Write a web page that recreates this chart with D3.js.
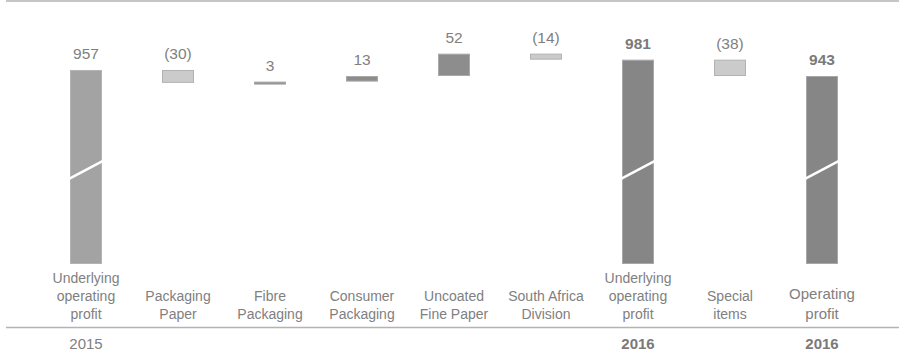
<!DOCTYPE html>
<html>
<head>
<meta charset="utf-8">
<script src="https://cdn.jsdelivr.net/npm/d3@7"></script>
<style>
  body { margin: 0; background: #fff; }
  svg { display: block; }
</style>
</head>
<body>
<svg id="chart"></svg>
<script>
const categories = [
  ["Underlying", "operating", "profit"],
  ["Packaging", "Paper"],
  ["Fibre", "Packaging"],
  ["Consumer", "Packaging"],
  ["Uncoated", "Fine Paper"],
  ["South Africa", "Division"],
  ["Underlying", "operating", "profit"],
  ["Special", "items"],
  ["Operating", "profit"]
];
const values = [957, -30, 3, 13, 52, -14, 981, -38, 943];
const kinds = ["total2015", "delta", "delta", "delta", "delta", "delta", "total2016", "delta", "total2016"];
const valueLabels = ["957", "(30)", "3", "13", "52", "(14)", "981", "(38)", "943"];
const yearLabels = ["2015", "", "", "", "", "", "2016", "", "2016"];

const width = 899;
const height = 351;
const barWidth = 32;
const baseY = 264;
const breakValue = 500;
const font = "'Liberation Sans', Arial, Helvetica, sans-serif";
const textColor = "#808080";
const boldColor = "#7a7a7a";

const svg = d3.select("#chart")
  .attr("width", width)
  .attr("height", height);

const xScale = d3.scalePoint()
  .domain(d3.range(categories.length))
  .range([86, 822]);

// broken axis: 0..900 squeezed into the lower part, 900..1000 stretched
const yScale = d3.scaleLinear()
  .domain([0, 900, 1000])
  .range([baseY, 94.5, 51.5]);

// build waterfall segments
let running = 0;
const bars = values.map((v, i) => {
  let start, end;
  if (kinds[i] === "delta") {
    start = running;
    end = running + v;
  } else {
    start = 0;
    end = v;
  }
  running = end;
  return { i, v, kind: kinds[i], start, end, label: valueLabels[i] };
});

const fills = { total2015: "#a3a3a3", total2016: "#868686", up: "#8d8d8d", down: "#cbcbcb" };
const strokes = { total2015: "#b3b3b3", total2016: "#a8a8a8", up: "#a9a9a9", down: "#b2b2b2" };
const styleKey = d => d.kind !== "delta" ? d.kind : (d.v >= 0 ? "up" : "down");

// frame lines
svg.append("line")
  .attr("x1", 6).attr("x2", width)
  .attr("y1", 1).attr("y2", 1)
  .attr("stroke", "#b3b3b3")
  .attr("stroke-width", 1.5);

svg.append("line")
  .attr("x1", 6).attr("x2", width)
  .attr("y1", 327.5).attr("y2", 327.5)
  .attr("stroke", "#b3b3b3")
  .attr("stroke-width", 1.5);

svg.selectAll(".bar")
  .data(bars)
  .enter().append("rect")
  .attr("class", "bar")
  .attr("x", d => xScale(d.i) - barWidth / 2 + 0.5)
  .attr("width", barWidth - 1)
  .attr("y", d => yScale(Math.max(d.start, d.end)) + 0.5)
  .attr("height", d => Math.max(2, Math.abs(yScale(d.start) - yScale(d.end)) - 1))
  .attr("fill", d => fills[styleKey(d)])
  .attr("stroke", d => strokes[styleKey(d)])
  .attr("stroke-width", 1);

// break marks on the total bars
const yb = yScale(breakValue);
svg.selectAll(".break")
  .data(bars.filter(d => d.kind !== "delta"))
  .enter().append("line")
  .attr("class", "break")
  .attr("x1", d => xScale(d.i) - barWidth / 2 - 1)
  .attr("x2", d => xScale(d.i) + barWidth / 2 + 1)
  .attr("y1", yb + 9)
  .attr("y2", yb - 9)
  .attr("stroke", "#fff")
  .attr("stroke-width", 2.5);

// value labels
svg.selectAll(".value")
  .data(bars)
  .enter().append("text")
  .attr("class", "value")
  .attr("x", d => xScale(d.i))
  .attr("y", d => yScale(Math.max(d.start, d.end)) - 11)
  .attr("text-anchor", "middle")
  .attr("font-family", font)
  .attr("font-size", "15.5px")
  .attr("font-weight", d => d.kind === "total2016" ? "bold" : "300")
  .attr("fill", d => d.kind === "total2016" ? boldColor : textColor)
  .text(d => d.label);

// category labels, bottom aligned
const catGroups = svg.selectAll(".cat")
  .data(categories)
  .enter().append("text")
  .attr("class", "cat")
  .attr("text-anchor", "middle")
  .attr("font-family", font)
  .attr("font-size", (d, i) => i === 8 ? "15px" : "14px")
  .attr("font-weight", "300")
  .attr("fill", textColor);

catGroups.selectAll("tspan")
  .data((d, i) => d.map((line, k) => ({ line, k, n: d.length, i })))
  .enter().append("tspan")
  .attr("x", d => xScale(d.i))
  .attr("y", d => 319 - (d.n - 1 - d.k) * 18 - (d.i === 8 && d.k === 0 ? 2 : 0))
  .text(d => d.line);

// year labels
svg.selectAll(".year")
  .data(yearLabels.map((t, i) => ({ t, i })).filter(d => d.t))
  .enter().append("text")
  .attr("class", "year")
  .attr("x", d => xScale(d.i))
  .attr("y", 349)
  .attr("text-anchor", "middle")
  .attr("font-family", font)
  .attr("font-size", "15px")
  .attr("font-weight", d => d.i === 0 ? "300" : "bold")
  .attr("fill", d => d.i === 0 ? textColor : boldColor)
  .text(d => d.t);
</script>
</body>
</html>
